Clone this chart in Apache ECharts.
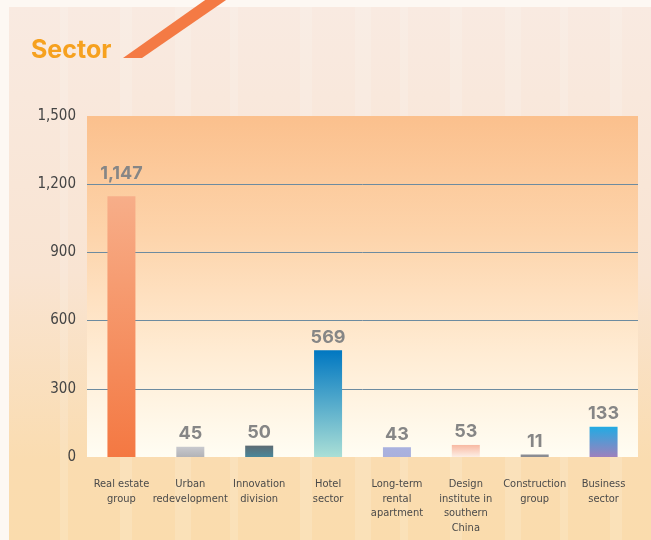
<!DOCTYPE html>
<html>
<head>
<meta charset="utf-8">
<script src="https://cdn.jsdelivr.net/npm/echarts@6/dist/echarts.min.js"></script>
<style>
html, body { margin: 0; padding: 0; background: #fdf8f3; }
#myChart { width: 651px; height: 540px; }
</style>
</head>
<body>
<div id="myChart"></div>
<script>
const categories = [
    "Real estate\ngroup",
    "Urban\nredevelopment",
    "Innovation\ndivision",
    "Hotel\nsector",
    "Long-term\nrental\napartment",
    "Design\ninstitute in\nsouthern\nChina",
    "Construction\ngroup",
    "Business\nsector",
];
// bar heights as drawn in the picture
const barValues = [1147, 45, 50, 470, 43, 53, 11, 133];
// numbers printed above the bars
const labelValues = [1147, 45, 50, 569, 43, 53, 11, 133];
const yTicks = [0, 300, 600, 900, 1200, 1500];

const barColors = [
    ["#f7ae89", "#f47842"],
    ["#c8c9ce", "#b2b3b7"],
    ["#5d6b73", "#49879a"],
    ["#0077c1", "#aadfd6"],
    ["#aab2df", "#a9b0dc"],
    ["#f8b9a2", "#fdefe6"],
    ["#8a8c92", "#8a8c92"],
    ["#22abe3", "#9d80bd"],
];

const vGrad = (top, bottom) =>
    new echarts.graphic.LinearGradient(0, 0, 0, 1, [
        { offset: 0, color: top },
        { offset: 1, color: bottom },
    ]);

const myChart = echarts.init(document.getElementById("myChart"));

// faint vertical stripes of the page background
const stripes = [];
[60, 120, 175, 230, 300, 355, 400, 450, 505, 560, 610].forEach((x, i) => {
    stripes.push({
        type: "rect",
        z: -9,
        shape: { x: x, y: 7, width: 8 + (i % 3) * 4, height: 533 },
        style: { fill: "rgba(255,255,255,0.14)" },
    });
});

const option = {
    backgroundColor: "#fdf8f3",
    graphic: [
        {
            type: "rect",
            z: -10,
            shape: { x: 9, y: 7, width: 642, height: 533 },
            style: {
                fill: new echarts.graphic.LinearGradient(0, 0, 0, 1, [
                    { offset: 0, color: "#f9eae1" },
                    { offset: 0.5, color: "#f9e4d2" },
                    { offset: 0.85, color: "#fadcb0" },
                    { offset: 1, color: "#fadcad" },
                ]),
            },
        },
        ...stripes,
        {
            type: "polygon",
            z: 10,
            shape: { points: [[123, 58], [142, 58], [229, -2], [208, -2]] },
            style: { fill: "#f47a44" },
        },
        {
            type: "text",
            z: 10,
            left: 31,
            top: 38,
            style: {
                text: "Sector",
                fill: "#f6a11f",
                font: "bold 25px Inter, sans-serif",
            },
        },
    ],
    grid: {
        left: 87,
        right: 13,
        top: 116,
        bottom: 83,
        show: true,
        borderWidth: 0,
        backgroundColor: new echarts.graphic.LinearGradient(0, 0, 0, 1, [
            { offset: 0, color: "#fbc08d" },
            { offset: 0.35, color: "#fdd4ab" },
            { offset: 0.7, color: "#ffecd4" },
            { offset: 1, color: "#fffdf3" },
        ]),
    },
    xAxis: {
        type: "category",
        data: categories,
        axisLine: { show: false },
        axisTick: { show: false },
        axisLabel: {
            interval: 0,
            margin: 20,
            color: "#4a4a4a",
            fontSize: 11,
            lineHeight: 14.5,
            fontFamily: "'DejaVu Sans Condensed', sans-serif",
            verticalAlign: "top",
        },
    },
    yAxis: {
        type: "value",
        min: yTicks[0],
        max: yTicks[yTicks.length - 1],
        interval: 300,
        axisLine: { show: false },
        axisTick: { show: false },
        axisLabel: {
            margin: 11,
            color: "#444",
            fontSize: 15,
            fontFamily: "'DejaVu Sans Condensed', sans-serif",
            formatter: (v) => v.toLocaleString("en-US"),
        },
        splitLine: {
            show: true,
            lineStyle: {
                color: ["transparent", "#6d8ba0", "#6d8ba0", "#6d8ba0", "#6d8ba0", "transparent"],
                width: 1,
            },
        },
    },
    series: [
        {
            type: "bar",
            barWidth: 28,
            data: barValues.map((v, i) => ({
                value: v,
                itemStyle: { color: vGrad(barColors[i][0], barColors[i][1]) },
                label: i === 0 ? { distance: 14 } : undefined,
            })),
            label: {
                show: true,
                position: "top",
                distance: 4,
                color: "#868686",
                fontSize: 18,
                fontWeight: "bold",
                fontFamily: "Inter, sans-serif",
                formatter: (p) => labelValues[p.dataIndex].toLocaleString("en-US"),
            },
        },
    ],
};
myChart.setOption(option);
</script>
</body>
</html>
